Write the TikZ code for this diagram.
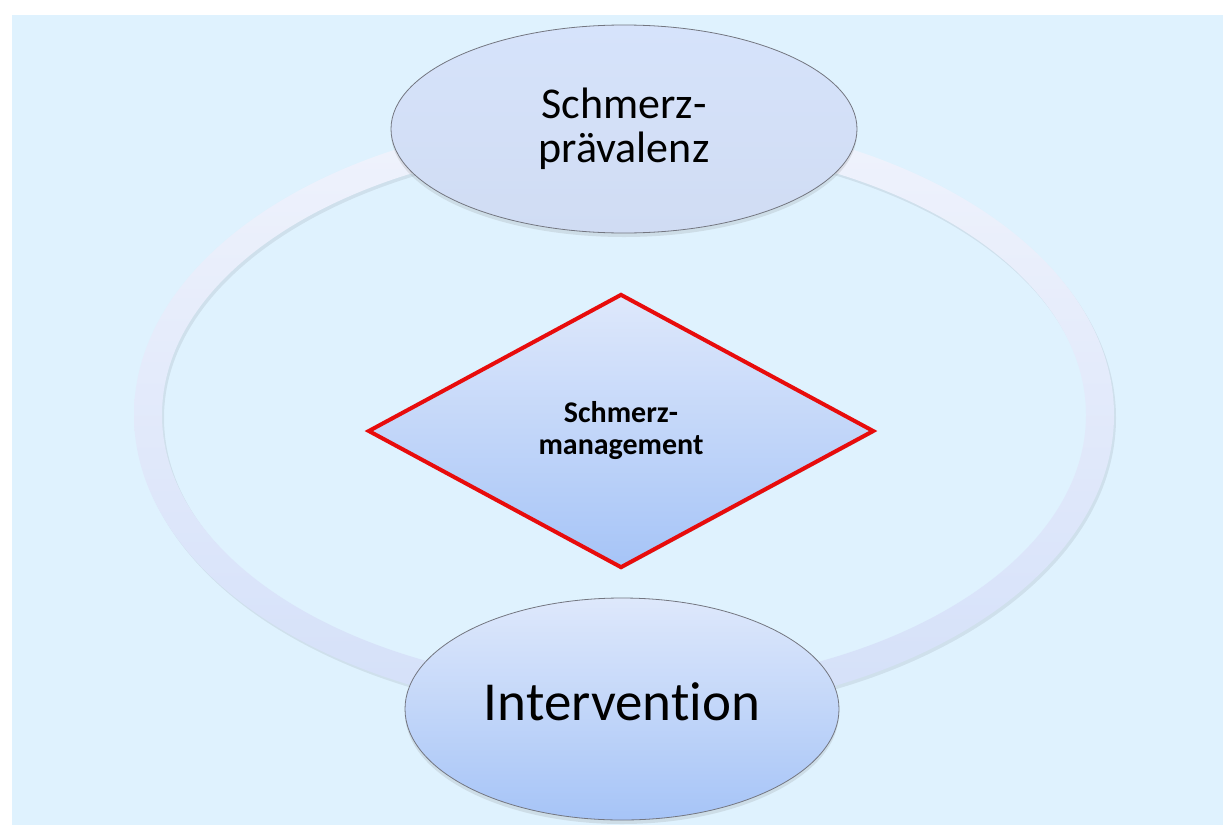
\documentclass[tikz,border=0pt]{standalone}
\usepackage{fontspec}
\setmainfont{Carlito}[Ligatures=NoCommon]
\usetikzlibrary{shapes.geometric,shadows}
\definecolor{bgcol}{RGB}{223,242,254}
\definecolor{ringtop}{RGB}{240,243,252}
\definecolor{ringbot}{RGB}{212,224,249}
\definecolor{ovaltop}{RGB}{222,232,251}
\definecolor{ovalbot}{RGB}{166,196,247}
\definecolor{prevtop}{RGB}{214,227,251}
\definecolor{prevmid}{RGB}{184,205,249}
\definecolor{prevbot}{RGB}{208,220,243}
\definecolor{ovalline}{RGB}{115,118,128}
\definecolor{redline}{RGB}{232,12,12}
\begin{document}
\begin{tikzpicture}[x=1pt,y=-1pt,
  oval/.style={ellipse, draw=ovalline, line width=0.8pt, inner sep=0pt,
    drop shadow={shadow xshift=0pt, shadow yshift=-4pt, opacity=0.18}},
  rhomb/.style={diamond, draw=redline, line width=4pt, inner sep=0pt,
    top color=ovaltop, bottom color=ovalbot,
    drop shadow={shadow xshift=0.8pt, shadow yshift=-2pt, opacity=0.45}},
]
\useasboundingbox (0,0) rectangle (1223,825);
\fill[bgcol] (12,15) rectangle (1223,825);
% ring shadow
\fill[black, opacity=0.07, even odd rule]
  (626,418) ellipse [x radius=490, y radius=300]
  (626,418) ellipse [x radius=462, y radius=272];
% ring
\path[even odd rule, top color=ringtop, bottom color=ringbot]
  (624,415) ellipse [x radius=490, y radius=300]
  (624,415) ellipse [x radius=462, y radius=272];
% nodes
\node[oval, minimum width=466pt, minimum height=208pt,
  top color=prevtop, middle color=prevmid, bottom color=prevbot,
  align=center, font=\fontsize{44}{44}\selectfont]
  (prev) at (624,129) {Schmerz-\\prävalenz};
\node[oval, minimum width=434pt, minimum height=222pt,
  top color=ovaltop, bottom color=ovalbot,
  font=\fontsize{55}{60}\selectfont, text height=37pt, text depth=15pt]
  (interv) at (622,709) {Intervention};
\node[rhomb, minimum width=506pt, minimum height=274pt,
  align=center, font=\bfseries\fontsize{30}{32}\selectfont]
  (mgmt) at (621,431) {Schmerz-\\management};
\end{tikzpicture}
\end{document}
